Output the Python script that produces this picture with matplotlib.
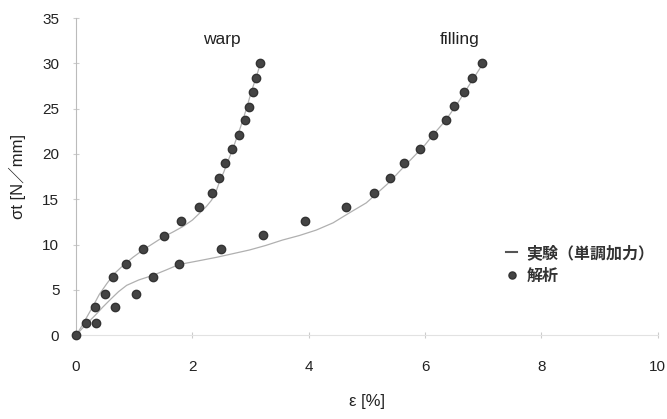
import matplotlib
matplotlib.use('Agg')
import matplotlib.pyplot as plt
import numpy as np

plt.rcParams['font.family'] = ['Liberation Sans', 'Noto Sans CJK JP']

# analysis points (解析)
warp_eps = [0, 0.17, 0.33, 0.50, 0.63, 0.86, 1.15, 1.51, 1.80, 2.11, 2.33, 2.45,
            2.56, 2.69, 2.80, 2.90, 2.97, 3.04, 3.10, 3.17]
warp_sig = [0, 1.4, 3.1, 4.6, 6.4, 7.9, 9.5, 11.0, 12.6, 14.1, 15.7, 17.3,
            19.0, 20.5, 22.1, 23.7, 25.2, 26.8, 28.4, 30.0]
fill_eps = [0.34, 0.67, 1.03, 1.32, 1.77, 2.49, 3.21, 3.93, 4.65, 5.13, 5.40,
            5.64, 5.92, 6.14, 6.36, 6.50, 6.67, 6.81, 6.98]
fill_sig = [1.4, 3.1, 4.6, 6.4, 7.9, 9.5, 11.1, 12.6, 14.2, 15.7, 17.3,
            19.0, 20.5, 22.1, 23.7, 25.3, 26.8, 28.4, 30.0]

# experiment curves (実験（単調加力）)
warp_exp_eps = [0, 0.08, 0.15, 0.23, 0.3, 0.4, 0.53, 0.66, 0.81, 0.98, 1.15, 1.32,
                1.49, 1.67, 1.84, 2.0, 2.13, 2.24, 2.33, 2.41, 2.47, 2.54, 2.60,
                2.72, 2.83, 2.93, 3.02, 3.10, 3.17]
warp_exp_sig = [0, 0.8, 1.6, 2.5, 3.3, 4.5, 5.7, 6.8, 7.7, 8.6, 9.4, 10.1,
                10.8, 11.4, 12.0, 12.7, 13.5, 14.2, 14.9, 15.9, 17.0, 18.0, 19.0,
                21.0, 23.0, 25.0, 27.0, 28.5, 30.0]
fill_exp_eps = [0, 0.1, 0.19, 0.33, 0.46, 0.6, 0.73, 0.87, 1.08, 1.32, 1.55, 1.77,
                2.1, 2.42, 2.7, 2.98, 3.26, 3.55, 3.84, 4.13, 4.42, 4.70, 4.99,
                5.2, 5.39, 5.55, 5.70, 5.85, 6.00, 6.15, 6.30, 6.43, 6.55, 6.68,
                6.80, 6.90, 7.00]
fill_exp_sig = [0, 0.7, 1.3, 2.2, 3.1, 4.0, 4.8, 5.5, 6.1, 6.6, 7.2, 7.8,
                8.2, 8.6, 9.0, 9.4, 9.9, 10.5, 11.0, 11.6, 12.4, 13.5, 14.6,
                15.8, 16.9, 18.0, 19.0, 20.0, 21.0, 22.2, 23.3, 24.4, 25.5, 26.8,
                28.0, 29.0, 30.0]

fig = plt.figure(figsize=(6.67, 4.19), dpi=100)
ax = fig.add_axes([0.114, 0.200, 0.872, 0.757])

line_c = '#b0b0b0'
dot_c = '#444444'
ax.plot(warp_exp_eps, warp_exp_sig, '-', color=line_c, lw=0.9, label='実験（単調加力）')
ax.plot(fill_exp_eps, fill_exp_sig, '-', color=line_c, lw=0.9)
ax.plot(warp_eps, warp_sig, 'o', color=dot_c, mec='#333333', ms=6, clip_on=False,
        label='解析', zorder=3)
ax.plot(fill_eps, fill_sig, 'o', color=dot_c, mec='#333333', ms=6, clip_on=False, zorder=3)

ax.text(2.5, 32.6, 'warp', ha='center', va='center', fontsize=12.5, color='#222222')
ax.text(6.6, 32.6, 'filling', ha='center', va='center', fontsize=12.5, color='#222222')

ax.set_xlim(0, 10)
ax.set_ylim(0, 35)
ax.set_xticks(np.arange(0, 11, 2))
ax.set_yticks(np.arange(0, 36, 5))
ax.tick_params(axis='both', labelsize=11, colors='#cccccc', labelcolor='#222222',
               direction='inout', length=4)
ax.tick_params(axis='x', pad=16)
ax.tick_params(axis='y', pad=10)
for s in ['top', 'right']:
    ax.spines[s].set_visible(False)
ax.spines['left'].set_color('#bbbbbb')
ax.spines['bottom'].set_color('#e2e2e2')
ax.spines['bottom'].set_linestyle((0, (2, 1)))

ax.set_xlabel('ε [%]', fontsize=12, color='#222222', labelpad=14)
ax.set_ylabel('σt [N／mm]', fontsize=12, color='#222222', labelpad=12)

leg = ax.legend(loc='upper left', bbox_to_anchor=(0.715, 0.33), frameon=False,
                prop={'size': 11.5, 'weight': 'bold'}, handlelength=0.7,
                handletextpad=0.55, labelspacing=0.5, markerscale=0.85)
for t in leg.get_texts():
    t.set_color('#333333')
leg.get_lines()[0].set_color('#555555')
leg.get_lines()[0].set_linewidth(1.5)

fig.savefig('out.png', dpi=100)
